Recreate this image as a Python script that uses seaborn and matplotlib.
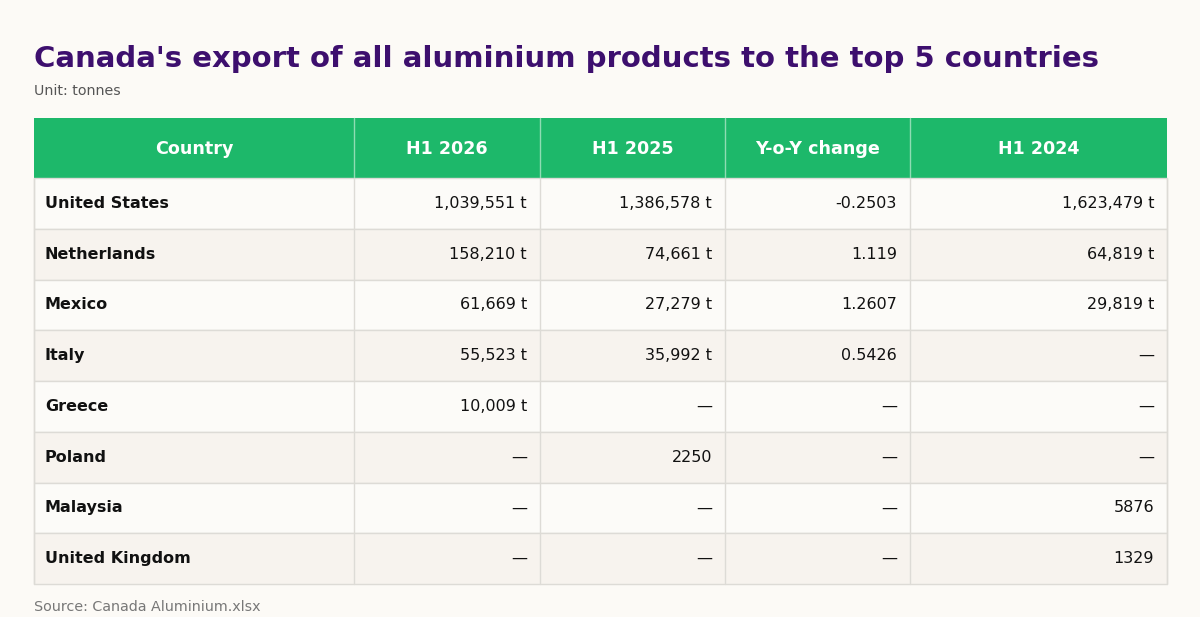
import matplotlib
matplotlib.use("Agg")
import matplotlib.pyplot as plt
import matplotlib.patches as mpatches
import seaborn as sns

# Data
columns = ["Country", "H1 2026", "H1 2025", "Y-o-Y change", "H1 2024"]
countries = ["United States", "Netherlands", "Mexico", "Italy", "Greece",
             "Poland", "Malaysia", "United Kingdom"]
h1_2026 = ["1,039,551 t", "158,210 t", "61,669 t", "55,523 t", "10,009 t", "—", "—", "—"]
h1_2025 = ["1,386,578 t", "74,661 t", "27,279 t", "35,992 t", "—", "2250", "—", "—"]
yoy = ["-0.2503", "1.119", "1.2607", "0.5426", "—", "—", "—", "—"]
h1_2024 = ["1,623,479 t", "64,819 t", "29,819 t", "—", "—", "—", "5876", "1329"]

sns.set_theme(style="white")
plt.rcParams['font.family'] = ['DejaVu Sans']

bg = "#fcfaf6"
fig = plt.figure(figsize=(12, 6.17), dpi=100, facecolor=bg)
ax = fig.add_axes([0, 0, 1, 1])
ax.set_xlim(0, 1200)
ax.set_ylim(617, 0)
ax.axis("off")

col_edges = [34, 354, 540, 725, 910, 1167]
header_top, header_bot = 118, 178
row_h = (584 - header_top - 60) / len(countries)
grid_col = "#dddbd6"

fig.text(34 / 1200, 1 - 59 / 617, "Canada's export of all aluminium products to the top 5 countries",
         fontsize=21, fontweight="bold", color="#3d0f6e", va="center")
fig.text(34 / 1200, 1 - 91 / 617, "Unit: tonnes", fontsize=10.3, color="#555555", va="center")
fig.text(34 / 1200, 1 - 607 / 617, "Source: Canada Aluminium.xlsx", fontsize=10.3, color="#777777", va="center")

# header
ax.add_patch(mpatches.Rectangle((34, header_top), 1167 - 34, header_bot - header_top,
                                color="#1db86a", lw=0))
for i, c in enumerate(columns):
    xc = (col_edges[i] + col_edges[i + 1]) / 2
    ax.text(xc, (header_top + header_bot) / 2 + 1, c, ha="center", va="center",
            color="white", fontsize=12.6, fontweight="bold")
for x in col_edges[1:-1]:
    ax.plot([x, x], [header_top, header_bot], color="#8fdcb3", lw=1)

data_cols = [h1_2026, h1_2025, yoy, h1_2024]
for r, name in enumerate(countries):
    y0 = header_bot + r * row_h
    ax.add_patch(mpatches.Rectangle((34, y0), 1167 - 34, row_h,
                                    facecolor="#fcfbf8" if r % 2 == 0 else "#f7f3ee",
                                    edgecolor=grid_col, lw=1))
    yc = y0 + row_h / 2
    ax.text(45, yc, name, ha="left", va="center", fontsize=11.5,
            fontweight="bold", color="#111111")
    for j, col in enumerate(data_cols):
        ax.text(col_edges[j + 2] - 13, yc, col[r], ha="right", va="center",
                fontsize=11.5, color="#111111")
for x in col_edges[1:-1]:
    ax.plot([x, x], [header_bot, 584], color=grid_col, lw=1)
ax.plot([34, 34], [header_bot, 584], color=grid_col, lw=1)
ax.plot([1167, 1167], [header_bot, 584], color=grid_col, lw=1)

fig.savefig("out.png", dpi=100, facecolor=bg)
